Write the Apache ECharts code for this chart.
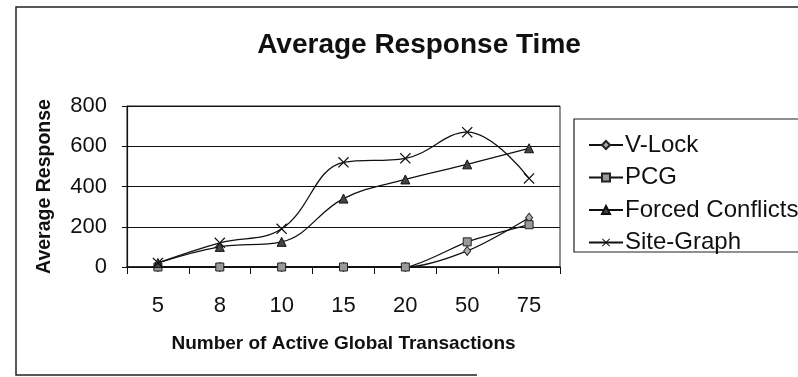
<!DOCTYPE html>
<html>
<head>
<meta charset="utf-8">
<script src="https://cdn.jsdelivr.net/npm/echarts@6/dist/echarts.min.js"></script>
<style>html,body{margin:0;padding:0;background:#fff}#c{width:798px;height:377px}</style>
</head>
<body>
<div id="c"></div>
<script>
var categories = ['5', '8', '10', '15', '20', '50', '75'];
var vLock = [0, 0, 0, 0, 0, 80, 245];
var pcg = [0, 0, 0, 0, 0, 125, 210];
var forcedConflicts = [20, 100, 125, 340, 435, 510, 590];
var siteGraph = [20, 120, 190, 520, 540, 670, 440];
var yTicks = [0, 200, 400, 600, 800];

var FONT = "'Liberation Sans', Arial, sans-serif";
var xPath = 'path://M0,0.8L0.8,0L5,4.2L9.2,0L10,0.8L5.8,5L10,9.2L9.2,10L5,5.8L0.8,10L0,9.2L4.2,5Z';

var chart = echarts.init(document.getElementById('c'));
chart.setOption({
  animation: false,
  backgroundColor: '#fff',
  textStyle: { fontFamily: FONT },
  title: {
    text: 'Average Response Time',
    left: 414, top: 26, textAlign: 'center',
    textStyle: { fontFamily: FONT, fontSize: 28, fontWeight: 'bold', color: '#111' }
  },
  graphic: [
    { type: 'polyline', silent: true,
      shape: { points: [[800, 7], [16, 7], [16, 375], [477, 375]] },
      style: { stroke: '#222', lineWidth: 1.5, fill: null } },
    { type: 'rect', silent: true,
      shape: { x: 574, y: 119, width: 240, height: 133 },
      style: { stroke: '#222', lineWidth: 1.2, fill: '#fff' } }
  ],
  legend: {
    orient: 'vertical',
    left: 583, top: 128,
    itemWidth: 34, itemHeight: 10, itemGap: 8.5,
    data: ['V-Lock', 'PCG', 'Forced Conflicts', 'Site-Graph'],
    textStyle: { fontFamily: FONT, fontSize: 24, color: '#111', lineHeight: 24, padding: [0, 0, 0, -3] }
  },
  grid: { left: 127, right: 238, top: 106, bottom: 110, show: true, borderColor: '#222', borderWidth: 1 },
  xAxis: {
    type: 'category',
    data: categories,
    boundaryGap: true,
    name: 'Number of Active Global Transactions',
    nameLocation: 'middle', nameGap: 67,
    nameTextStyle: { fontFamily: FONT, fontSize: 19, fontWeight: 'bold', color: '#111' },
    axisLine: { lineStyle: { color: '#111', width: 1.5 } },
    axisTick: { show: true, length: 7, lineStyle: { color: '#111' } },
    axisLabel: { margin: 28, fontSize: 22, color: '#111', fontFamily: FONT }
  },
  yAxis: {
    type: 'value',
    min: 0, max: 800, interval: 200,
    name: 'Average Response',
    nameLocation: 'middle', nameGap: 72,
    nameTextStyle: { fontFamily: FONT, fontSize: 19.5, fontWeight: 'bold', color: '#111' },
    axisLine: { show: true, lineStyle: { color: '#111', width: 1.2 } },
    axisTick: { show: true, length: 5, lineStyle: { color: '#111' } },
    axisLabel: { margin: 20, fontSize: 22, color: '#111', fontFamily: FONT,
      formatter: function (v) { return yTicks.indexOf(v) >= 0 ? String(v) : ''; } },
    splitLine: { show: true, lineStyle: { color: '#111', width: 1 } }
  },
  series: [
    { name: 'V-Lock', type: 'line', data: vLock, smooth: 0.3,
      symbol: 'diamond', symbolSize: [7, 9],
      lineStyle: { color: '#111', width: 1.3 },
      itemStyle: { color: '#aaa', borderColor: '#222', borderWidth: 1 } },
    { name: 'PCG', type: 'line', data: pcg, smooth: 0.2,
      symbol: 'rect', symbolSize: 8,
      lineStyle: { color: '#111', width: 1.3 },
      itemStyle: { color: '#999', borderColor: '#222', borderWidth: 1 } },
    { name: 'Forced Conflicts', type: 'line', data: forcedConflicts, smooth: 0.4,
      symbol: 'triangle', symbolSize: 9,
      lineStyle: { color: '#111', width: 1.3 },
      itemStyle: { color: '#444', borderColor: '#111', borderWidth: 1 } },
    { name: 'Site-Graph', type: 'line', data: siteGraph, smooth: 0.4,
      symbol: xPath, symbolSize: 11,
      lineStyle: { color: '#111', width: 1.3 },
      itemStyle: { color: '#111', borderColor: '#111', borderWidth: 0 } }
  ]
});
</script>
</body>
</html>
